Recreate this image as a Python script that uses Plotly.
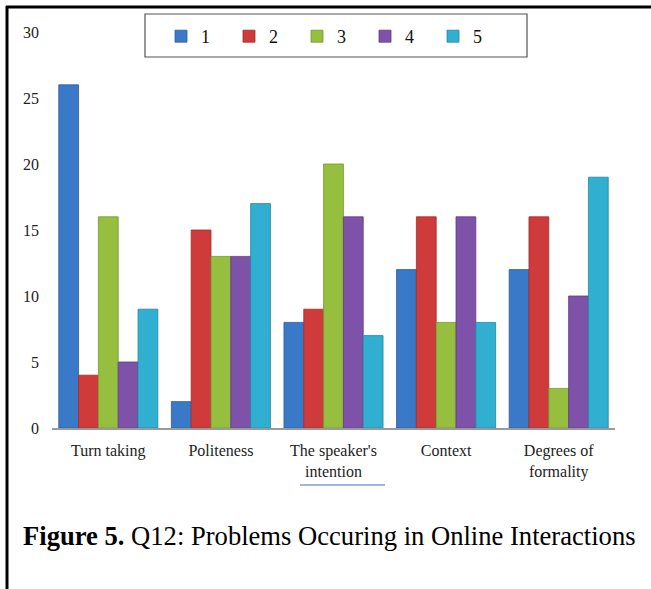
import plotly.graph_objects as go

categories = ["Turn taking", "Politeness", "The speaker's<br>intention", "Context", "Degrees of<br>formality"]
series_names = ["1", "2", "3", "4", "5"]
s1 = [26, 2, 8, 12, 12]
s2 = [4, 15, 9, 16, 16]
s3 = [16, 13, 20, 8, 3]
s4 = [5, 13, 16, 16, 10]
s5 = [9, 17, 7, 8, 19]
series_values = [s1, s2, s3, s4, s5]
colors = ["#3A78C8", "#CF3A3A", "#96BF3F", "#7D52A8", "#30AFD0"]
line_colors = ["#2C5E9E", "#A52B2B", "#76982F", "#5F3D82", "#2288A3"]
y_ticks = [0, 5, 10, 15, 20, 25, 30]

W, H = 651, 589
L, R, T, B = 52, 36, 32, 161
pw, ph = W - L - R, H - T - B

def px_x(p):
    return (p - L) / pw

def px_y(p):
    return (H - B - p) / ph

fig = go.Figure()
for name, vals, c, lc in zip(series_names, series_values, colors, line_colors):
    fig.add_trace(go.Bar(x=categories, y=vals, name=name,
                         marker=dict(color=c, line=dict(color=lc, width=0.8))))

font_family = "Liberation Serif"
fig.update_layout(
    width=W, height=H,
    margin=dict(l=L, r=R, t=T, b=B),
    paper_bgcolor="white", plot_bgcolor="white",
    barmode="group", bargap=0.12, bargroupgap=0.0,
    font=dict(family=font_family, size=16, color="#222222"),
    showlegend=True,
    legend=dict(orientation="h", x=px_x(161), y=px_y(18), xanchor="left", yanchor="top",
                bgcolor="rgba(0,0,0,0)", borderwidth=0,
                font=dict(family=font_family, size=18, color="#111111"),
                entrywidth=23, itemwidth=30),
    xaxis=dict(showgrid=False, showline=True, linecolor="#9a9a9a", linewidth=1.5,
               ticks="", ticklabelstandoff=7,
               tickfont=dict(family=font_family, size=16, color="#222222")),
    yaxis=dict(range=[0, 30], tickvals=y_ticks, showgrid=False, showline=False,
               zeroline=False, ticks="", ticklabelstandoff=12,
               tickfont=dict(family=font_family, size=16, color="#222222")),
    shapes=[
        dict(type="rect", xref="paper", yref="paper", x0=px_x(145), x1=px_x(527),
             y0=px_y(57), y1=px_y(14), line=dict(color="#555555", width=1.2)),
        dict(type="line", xref="paper", yref="paper", x0=px_x(6), x1=px_x(660),
             y0=px_y(7), y1=px_y(7), line=dict(color="black", width=3)),
        dict(type="line", xref="paper", yref="paper", x0=px_x(7), x1=px_x(7),
             y0=px_y(6), y1=px_y(600), line=dict(color="black", width=3)),
        dict(type="line", xref="paper", yref="paper", x0=px_x(300), x1=px_x(385),
             y0=px_y(485), y1=px_y(485), line=dict(color="#4A6FA8", width=1.2)),
    ],
    annotations=[
        dict(xref="paper", yref="paper", x=px_x(21), y=px_y(536), xanchor="left", yanchor="middle",
             showarrow=False,
             text="<b>Figure 5.</b> Q12: Problems Occuring in Online Interactions",
             font=dict(family=font_family, size=26.6, color="black")),
    ],
)

fig.write_html("out.html")
